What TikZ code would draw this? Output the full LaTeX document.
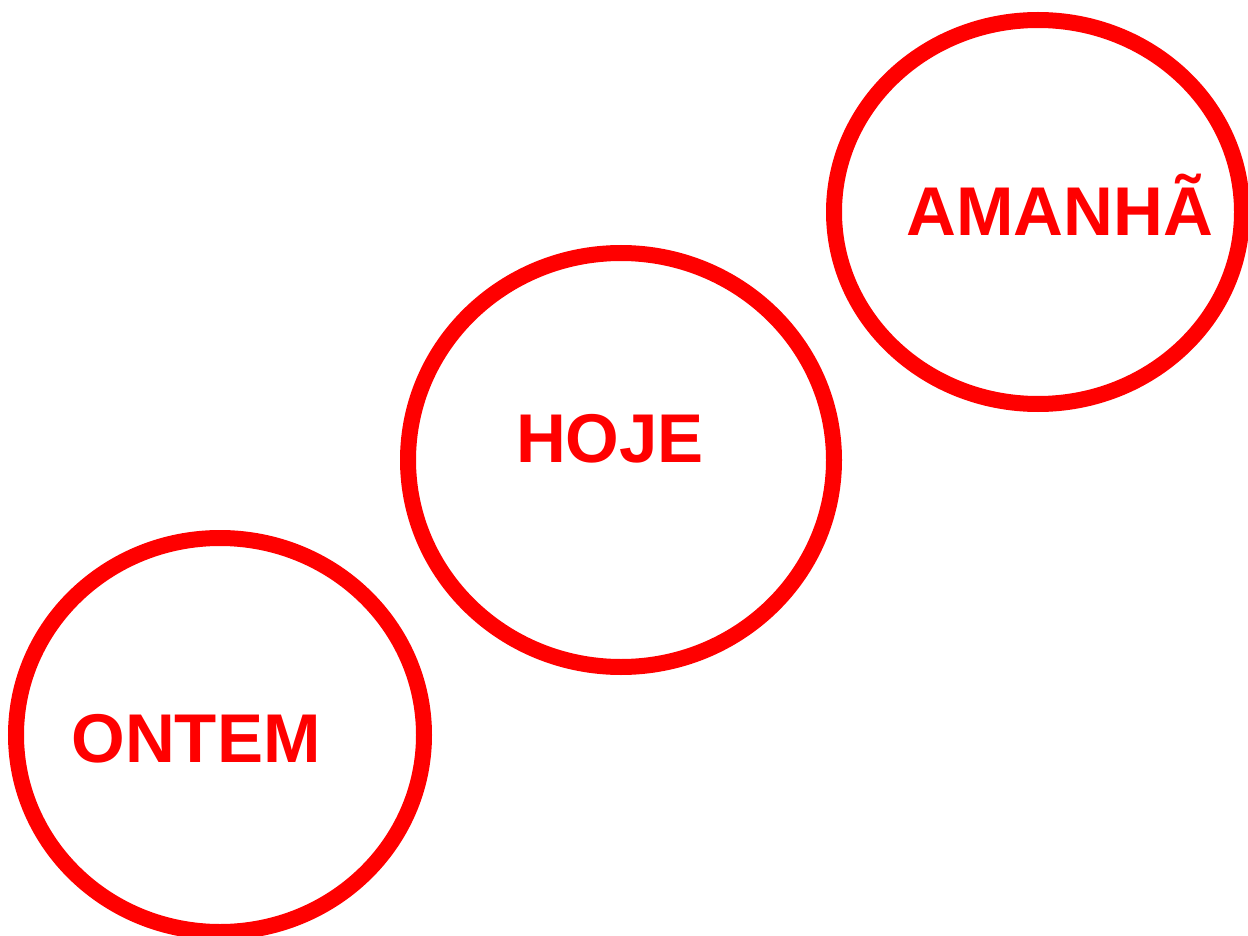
\documentclass[tikz,border=0pt]{standalone}
\usepackage{fontspec}
\setmainfont{Liberation Sans}
\tikzset{
  ring/.style={draw=red, line width=16pt},
  word/.style={text=red, font=\fontsize{69}{69}\selectfont\bfseries, inner sep=0pt}
}
\begin{document}
\begin{tikzpicture}[x=1pt, y=-1pt]
  \useasboundingbox (0,0) rectangle (1248,936);
  % três círculos — de baixo à esquerda para cima à direita
  \draw[ring] (220,735) ellipse [x radius=204, y radius=197];
  \draw[ring] (621,460) ellipse [x radius=213, y radius=207];
  \draw[ring] (1038,212) ellipse [x radius=204, y radius=192];
  \node[word] (ontem) at (196,739) {ONTEM};
  \node[word] (hoje) at (610,439) {HOJE};
  \node[word] (amanha) at (1060,205) {AMANHÃ};
\end{tikzpicture}
\end{document}
